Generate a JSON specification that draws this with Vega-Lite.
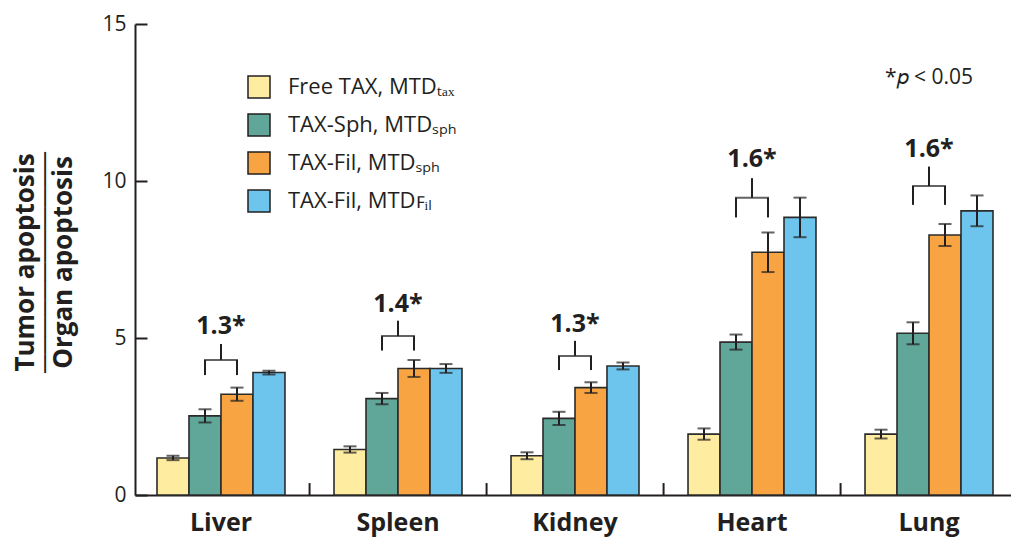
{
  "$schema": "https://vega.github.io/schema/vega-lite/v6.json",
  "width": 876,
  "height": 471,
  "autosize": "none",
  "padding": {"left": 135, "top": 24, "right": 0, "bottom": 43},
  "background": "white",
  "config": {
    "view": {"stroke": null},
    "font": "Open Sans",
    "text": {"font": "Open Sans", "color": "#231f20"},
    "axis": {"domainColor": "#231f20", "tickColor": "#231f20", "labelColor": "#231f20", "titleColor": "#231f20", "grid": false}
  },
  "datasets": {
    "bars": [
      {"organ": "Liver", "treatment": "Free TAX, MTDₜₐₓ", "value": 1.18, "lo": 1.11, "hi": 1.25},
      {"organ": "Liver", "treatment": "TAX-Sph, MTDₛₚₕ", "value": 2.52, "lo": 2.31, "hi": 2.73},
      {"organ": "Liver", "treatment": "TAX-Fil, MTDₛₚₕ", "value": 3.21, "lo": 3.0, "hi": 3.42},
      {"organ": "Liver", "treatment": "TAX-Fil, MTDꜰᵢₗ", "value": 3.9, "lo": 3.84, "hi": 3.96},
      {"organ": "Spleen", "treatment": "Free TAX, MTDₜₐₓ", "value": 1.45, "lo": 1.35, "hi": 1.55},
      {"organ": "Spleen", "treatment": "TAX-Sph, MTDₛₚₕ", "value": 3.07, "lo": 2.89, "hi": 3.25},
      {"organ": "Spleen", "treatment": "TAX-Fil, MTDₛₚₕ", "value": 4.03, "lo": 3.76, "hi": 4.3},
      {"organ": "Spleen", "treatment": "TAX-Fil, MTDꜰᵢₗ", "value": 4.03, "lo": 3.89, "hi": 4.17},
      {"organ": "Kidney", "treatment": "Free TAX, MTDₜₐₓ", "value": 1.25, "lo": 1.14, "hi": 1.36},
      {"organ": "Kidney", "treatment": "TAX-Sph, MTDₛₚₕ", "value": 2.44, "lo": 2.23, "hi": 2.65},
      {"organ": "Kidney", "treatment": "TAX-Fil, MTDₛₚₕ", "value": 3.42, "lo": 3.25, "hi": 3.59},
      {"organ": "Kidney", "treatment": "TAX-Fil, MTDꜰᵢₗ", "value": 4.11, "lo": 4.0, "hi": 4.22},
      {"organ": "Heart", "treatment": "Free TAX, MTDₜₐₓ", "value": 1.94, "lo": 1.76, "hi": 2.12},
      {"organ": "Heart", "treatment": "TAX-Sph, MTDₛₚₕ", "value": 4.87, "lo": 4.63, "hi": 5.11},
      {"organ": "Heart", "treatment": "TAX-Fil, MTDₛₚₕ", "value": 7.73, "lo": 7.1, "hi": 8.36},
      {"organ": "Heart", "treatment": "TAX-Fil, MTDꜰᵢₗ", "value": 8.84, "lo": 8.21, "hi": 9.47},
      {"organ": "Lung", "treatment": "Free TAX, MTDₜₐₓ", "value": 1.94, "lo": 1.8, "hi": 2.08},
      {"organ": "Lung", "treatment": "TAX-Sph, MTDₛₚₕ", "value": 5.15, "lo": 4.8, "hi": 5.5},
      {"organ": "Lung", "treatment": "TAX-Fil, MTDₛₚₕ", "value": 8.28, "lo": 7.93, "hi": 8.63},
      {"organ": "Lung", "treatment": "TAX-Fil, MTDꜰᵢₗ", "value": 9.05, "lo": 8.56, "hi": 9.54}
    ],
    "legs": [
      {"organ": "Liver", "treatment": "TAX-Sph, MTDₛₚₕ", "lo": 3.82, "hi": 4.3},
      {"organ": "Liver", "treatment": "TAX-Fil, MTDₛₚₕ", "lo": 3.82, "hi": 4.3},
      {"organ": "Spleen", "treatment": "TAX-Sph, MTDₛₚₕ", "lo": 4.6, "hi": 5.06},
      {"organ": "Spleen", "treatment": "TAX-Fil, MTDₛₚₕ", "lo": 4.6, "hi": 5.06},
      {"organ": "Kidney", "treatment": "TAX-Sph, MTDₛₚₕ", "lo": 3.98, "hi": 4.43},
      {"organ": "Kidney", "treatment": "TAX-Fil, MTDₛₚₕ", "lo": 3.98, "hi": 4.43},
      {"organ": "Heart", "treatment": "TAX-Sph, MTDₛₚₕ", "lo": 8.84, "hi": 9.47},
      {"organ": "Heart", "treatment": "TAX-Fil, MTDₛₚₕ", "lo": 8.84, "hi": 9.47},
      {"organ": "Lung", "treatment": "TAX-Sph, MTDₛₚₕ", "lo": 9.24, "hi": 9.84},
      {"organ": "Lung", "treatment": "TAX-Fil, MTDₛₚₕ", "lo": 9.24, "hi": 9.84}
    ],
    "brackets": [
      {"organ": "Liver", "bar": 4.3, "top": 4.81, "labelY": 5.13, "label": "1.3*"},
      {"organ": "Spleen", "bar": 5.06, "top": 5.55, "labelY": 5.84, "label": "1.4*"},
      {"organ": "Kidney", "bar": 4.43, "top": 4.91, "labelY": 5.2, "label": "1.3*"},
      {"organ": "Heart", "bar": 9.47, "top": 10.09, "labelY": 10.46, "label": "1.6*"},
      {"organ": "Lung", "bar": 9.84, "top": 10.46, "labelY": 10.77, "label": "1.6*"}
    ],
    "separators": [
      {"organ": "Spleen", "y0": 0, "y1": 0.38},
      {"organ": "Kidney", "y0": 0, "y1": 0.38},
      {"organ": "Heart", "y0": 0, "y1": 0.38},
      {"organ": "Lung", "y0": 0, "y1": 0.38}
    ],
    "notes": [
      {"organ": "Lung", "y": 13.28, "note": "*𝑝 < 0.05"}
    ]
  },
  "encoding": {
    "x": {
      "field": "organ", "type": "nominal",
      "sort": ["Liver", "Spleen", "Kidney", "Heart", "Lung"],
      "scale": {"paddingInner": 0.277, "paddingOuter": 0.113, "align": 0.55},
      "axis": {
        "title": null, "labelAngle": 0, "labelFontSize": 25, "labelFontWeight": "bold",
        "labelBaseline": "alphabetic", "labelPadding": 35, "ticks": false,
        "domainWidth": 2
      }
    },
    "xOffset": {
      "field": "treatment", "type": "nominal",
      "scale": {
        "domain": ["Free TAX, MTDₜₐₓ", "TAX-Sph, MTDₛₚₕ", "TAX-Fil, MTDₛₚₕ", "TAX-Fil, MTDꜰᵢₗ"],
        "paddingInner": 0, "paddingOuter": 0
      }
    }
  },
  "layer": [
    {
      "data": {"name": "bars"},
      "mark": {"type": "bar", "stroke": "#2b2b2b", "strokeWidth": 1.6},
      "encoding": {
        "y": {
          "field": "value", "type": "quantitative",
          "scale": {"domain": [0, 15], "nice": false},
          "axis": {
            "values": [0, 5, 10, 15], "labelFontSize": 21, "labelPadding": 21,
            "tickSize": -12, "tickWidth": 2, "domainWidth": 2,
            "title": ["Tumor apoptosis", "────────────", "Organ apoptosis"],
            "titleFontSize": 26, "titleFontWeight": "bold", "titleLineHeight": 19,
            "titleAngle": -90, "titleAlign": "center", "titleBaseline": "middle",
            "titleX": -110, "titleY": 238
          }
        },
        "color": {
          "field": "treatment", "type": "nominal",
          "scale": {
            "domain": ["Free TAX, MTDₜₐₓ", "TAX-Sph, MTDₛₚₕ", "TAX-Fil, MTDₛₚₕ", "TAX-Fil, MTDꜰᵢₗ"],
            "range": ["#feeda0", "#60a699", "#f9a443", "#6dc5ee"]
          },
          "legend": {
            "orient": "none", "legendX": 112, "legendY": 51, "title": null,
            "symbolType": "square", "symbolSize": 484, "symbolStrokeColor": "#231f20",
            "symbolStrokeWidth": 1.5, "symbolOpacity": 1,
            "labelFontSize": 22, "labelColor": "#231f20", "labelOffset": 17,
            "rowPadding": 10, "padding": 0, "labelLimit": 400
          }
        }
      }
    },
    {
      "data": {"name": "separators"},
      "mark": {"type": "rule", "color": "#231f20", "strokeWidth": 2},
      "encoding": {
        "x": {"field": "organ", "type": "nominal", "bandPosition": -0.191},
        "xOffset": null,
        "y": {"field": "y0", "type": "quantitative"},
        "y2": {"field": "y1"}
      }
    },
    {
      "data": {"name": "bars"},
      "mark": {"type": "rule", "color": "#231f20", "strokeWidth": 2},
      "encoding": {
        "y": {"field": "lo", "type": "quantitative"},
        "y2": {"field": "hi"}
      }
    },
    {
      "data": {"name": "bars"},
      "mark": {"type": "tick", "orient": "horizontal", "color": "#231f20", "size": 13, "thickness": 2},
      "encoding": {
        "y": {"field": "lo", "type": "quantitative"}
      }
    },
    {
      "data": {"name": "bars"},
      "mark": {"type": "tick", "orient": "horizontal", "color": "#231f20", "size": 13, "thickness": 2},
      "encoding": {
        "y": {"field": "hi", "type": "quantitative"}
      }
    },
    {
      "data": {"name": "legs"},
      "mark": {"type": "rule", "color": "#231f20", "strokeWidth": 2},
      "encoding": {
        "y": {"field": "lo", "type": "quantitative"},
        "y2": {"field": "hi"}
      }
    },
    {
      "data": {"name": "brackets"},
      "mark": {"type": "tick", "orient": "horizontal", "color": "#231f20", "size": 34, "thickness": 2},
      "encoding": {
        "xOffset": null,
        "y": {"field": "bar", "type": "quantitative"}
      }
    },
    {
      "data": {"name": "brackets"},
      "mark": {"type": "rule", "color": "#231f20", "strokeWidth": 2},
      "encoding": {
        "xOffset": null,
        "y": {"field": "bar", "type": "quantitative"},
        "y2": {"field": "top"}
      }
    },
    {
      "data": {"name": "brackets"},
      "mark": {"type": "text", "fontSize": 25, "fontWeight": "bold", "baseline": "alphabetic", "align": "center"},
      "encoding": {
        "xOffset": null,
        "y": {"field": "labelY", "type": "quantitative"},
        "text": {"field": "label"}
      }
    },
    {
      "data": {"name": "notes"},
      "mark": {"type": "text", "fontSize": 21, "baseline": "middle", "align": "center"},
      "encoding": {
        "xOffset": null,
        "y": {"field": "y", "type": "quantitative"},
        "text": {"field": "note"}
      }
    }
  ]
}
